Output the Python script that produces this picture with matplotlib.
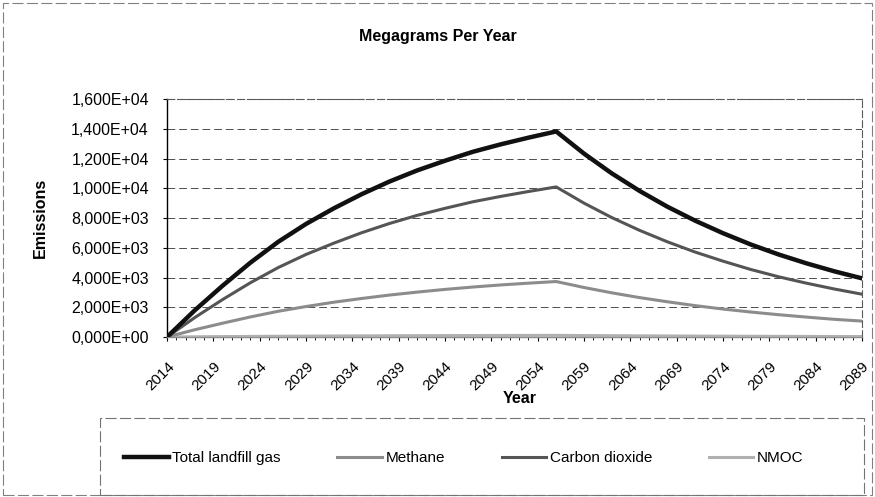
import matplotlib
matplotlib.use('Agg')
import matplotlib.pyplot as plt
from matplotlib.patches import Rectangle
from matplotlib.lines import Line2D

plt.rcParams['font.family'] = ['Liberation Sans', 'DejaVu Sans']

# values, every 3 years (Mg/year)
years = [2014, 2017, 2020, 2023, 2026, 2029, 2032, 2035, 2038, 2041, 2044, 2047, 2050,
         2053, 2056, 2059, 2062, 2065, 2068, 2071, 2074, 2077, 2080, 2083, 2086, 2089]
total_lfg = [0, 1800, 3450, 5000, 6400, 7600, 8650, 9600, 10450, 11200, 11850, 12450, 12950,
             13400, 13820, 12330, 11000, 9820, 8760, 7820, 6980, 6220, 5550, 4955, 4420, 3945]
methane = [0, 490, 930, 1350, 1730, 2050, 2340, 2590, 2820, 3020, 3200, 3360, 3500,
           3620, 3730, 3330, 2970, 2650, 2370, 2110, 1880, 1680, 1500, 1340, 1190, 1070]
co2 = [0, 1310, 2520, 3650, 4670, 5550, 6310, 7010, 7630, 8180, 8650, 9090, 9450,
       9780, 10090, 9000, 8030, 7170, 6400, 5710, 5100, 4540, 4050, 3620, 3230, 2880]
nmoc = [0, 14, 28, 40, 51, 61, 69, 77, 84, 90, 95, 100, 104,
        107, 111, 99, 88, 79, 70, 63, 56, 50, 44, 40, 35, 32]

tick_years = list(range(2014, 2090, 5))
y_ticks = [0, 2000, 4000, 6000, 8000, 10000, 12000, 14000, 16000]

fig = plt.figure(figsize=(8.75, 4.97), dpi=100)
ax = fig.add_axes([0.1909, 0.3219, 0.7942, 0.4789])

ax.plot(years, nmoc, color='#b0b0b0', lw=2.2, label='NMOC', zorder=3)
ax.plot(years, methane, color='#8c8c8c', lw=2.2, label='Methane', zorder=4)
ax.plot(years, co2, color='#555555', lw=2.2, label='Carbon dioxide', zorder=5)
ax.plot(years, total_lfg, color='#111111', lw=3.2, label='Total landfill gas', zorder=6)

ax.set_xlim(2014, 2089)
ax.set_ylim(0, 16000)
ax.set_yticks(y_ticks)
ax.set_yticklabels([f'{v:.3E}'.replace('.', ',') for v in y_ticks], fontsize=11.5)
ax.set_xticks(tick_years)
ax.set_xticks(range(2014, 2090), minor=True)
ax.set_xticklabels([str(y) for y in tick_years], fontsize=11, rotation=45,
                   ha='right', va='top', rotation_mode='anchor')
ax.tick_params(axis='x', which='major', length=3, pad=13)
ax.tick_params(axis='x', which='minor', length=2)
ax.tick_params(axis='y', length=3, pad=10)

ax.grid(axis='y', color='0.3', lw=0.7, ls=(0, (8, 4)))
for side in ['top', 'right']:
    ax.spines[side].set_linestyle((0, (6, 3)))
    ax.spines[side].set_color('0.35')
    ax.spines[side].set_linewidth(0.8)
ax.spines['left'].set_linewidth(1.0)
ax.spines['bottom'].set_color('0.55')
ax.spines['bottom'].set_linewidth(1.0)

ax.set_ylabel('Emissions', fontsize=11.5, fontweight='bold')
ax.yaxis.set_label_coords(-0.171, 0.5)
ax.set_xlabel('Year', fontsize=11.5, fontweight='bold')
ax.xaxis.set_label_coords(0.507, -0.225)

fig.text(0.5, 0.9256, 'Megagrams Per Year', ha='center', va='center',
         fontsize=11.5, fontweight='bold')

# frames around chart and legend
fig.patches.append(Rectangle((0.0034, 0.004), 0.9932, 0.99, transform=fig.transFigure,
                             fill=False, ec='0.5', lw=0.8, ls=(0, (10, 3))))
fig.patches.append(Rectangle((0.1143, 0.004), 0.873, 0.155, transform=fig.transFigure,
                             fill=False, ec='0.45', lw=0.8, ls=(0, (10, 3))))

handles = [Line2D([], [], color='#111111', lw=3.2),
           Line2D([], [], color='#8c8c8c', lw=2.2),
           Line2D([], [], color='#555555', lw=2.2),
           Line2D([], [], color='#b0b0b0', lw=2.2)]
labels = ['Total landfill gas', 'Methane', 'Carbon dioxide', 'NMOC']
fig.legend(handles, labels, loc='center', bbox_to_anchor=(0.53, 0.0785), ncol=4,
           frameon=False, fontsize=11, handlelength=2.9, handletextpad=0.25,
           columnspacing=3.7)

fig.savefig('out.png', dpi=100)
